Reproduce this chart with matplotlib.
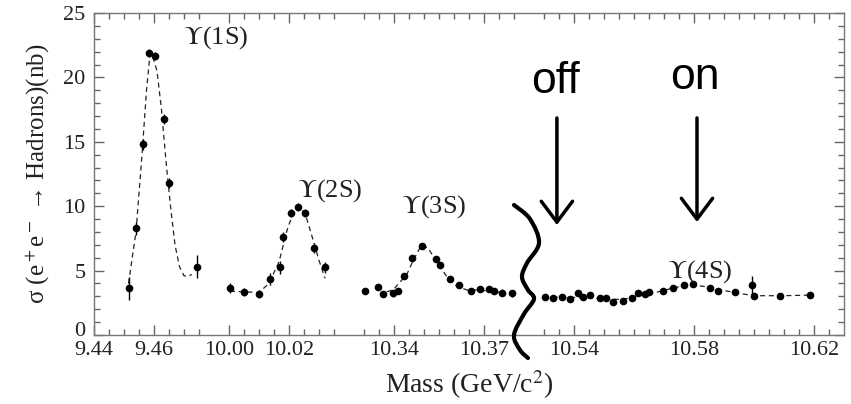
import numpy as np
import matplotlib
matplotlib.use("Agg")
import matplotlib.pyplot as plt
from matplotlib.path import Path
from matplotlib.patches import PathPatch
from matplotlib.transforms import ScaledTranslation
from matplotlib.ticker import FixedLocator, FixedFormatter, MultipleLocator

plt.rcParams['font.family'] = ['Liberation Serif', 'DejaVu Serif']
plt.rcParams['mathtext.fontset'] = 'stix'

# ---------------- data ----------------
# Upsilon(1S) scan
m1 = [9.4518, 9.4540, 9.4562, 9.4584, 9.4603, 9.4634, 9.4650, 9.4742]
s1 = [3.63, 8.28, 14.8, 21.9, 21.66, 16.77, 11.82, 5.30]
e1 = [0.9, 0.5, 0.4, 0.3, 0.3, 0.4, 0.4, 0.9]
f1m = [9.4515, 9.4540, 9.4560, 9.4575, 9.4585, 9.4592, 9.4610, 9.4625,
       9.4640, 9.4655, 9.4670, 9.4685, 9.4700, 9.4712, 9.4726]
f1s = [4.0, 8.0, 14.0, 19.0, 21.4, 21.9, 20.5, 17.5,
       13.5, 10.0, 7.0, 5.3, 4.6, 4.55, 4.7]

# Upsilon(2S) scan
m2 = [10.0003, 10.0050, 10.0100, 10.0137, 10.0170, 10.0180, 10.0208,
      10.0230, 10.0252, 10.0283, 10.0320]
s2 = [3.63, 3.36, 3.18, 4.35, 5.25, 7.63, 9.5, 9.96, 9.45, 6.73, 5.25]
e2 = [0.4, 0.3, 0.3, 0.5, 0.5, 0.4, 0.3, 0.3, 0.3, 0.4, 0.4]
f2m = [10.0003, 10.0050, 10.0100, 10.0133, 10.0167, 10.0193, 10.0217,
       10.0233, 10.0253, 10.0280, 10.0300, 10.0320]
f2s = [3.4, 3.35, 3.3, 4.0, 5.7, 8.1, 9.7, 9.95, 9.5, 7.4, 5.8, 4.4]

# Upsilon(3S) scan
m3 = [10.3303, 10.3348, 10.3364, 10.3396, 10.3414, 10.3434, 10.3461,
      10.3494, 10.3539, 10.3553, 10.3587, 10.3618, 10.3656, 10.3687,
      10.3718, 10.3733, 10.3759, 10.3792]
s3 = [3.42, 3.73, 3.18, 3.23, 3.42, 4.6, 5.95, 6.93, 5.9, 5.44, 4.35,
      3.9, 3.42, 3.55, 3.55, 3.42, 3.29, 3.23]
e3 = [0.25] * len(m3)
f3m = [10.3376, 10.3397, 10.3426, 10.3442, 10.3464, 10.3492, 10.3514,
       10.3542, 10.3576, 10.3609, 10.3642, 10.3687, 10.3720, 10.3763]
f3s = [3.36, 3.5, 4.27, 4.66, 5.8, 7.0, 6.73, 5.7, 4.53, 3.8, 3.5,
       3.5, 3.36, 3.3]

# Upsilon(4S) scan
m4 = [10.5303, 10.5331, 10.5359, 10.5387, 10.5414, 10.5431, 10.5453,
      10.5487, 10.5507, 10.5531, 10.5564, 10.5592, 10.5614, 10.5637,
      10.5650, 10.5696, 10.5729, 10.5767, 10.5798, 10.5853, 10.5881,
      10.5937, 10.5992, 10.6000, 10.6087, 10.6187]
s4 = [2.97, 2.90, 2.97, 2.80, 3.29, 2.93, 3.11, 2.85, 2.90, 2.59, 2.64,
      2.85, 3.24, 3.16, 3.36, 3.42, 3.63, 3.88, 3.96, 3.67, 3.42, 3.36,
      3.88, 3.05, 3.05, 3.11]
e4 = [0.2] * 22 + [0.7, 0.2, 0.2, 0.2]
f4m = [10.530, 10.540, 10.550, 10.556, 10.562, 10.568, 10.574, 10.579,
       10.584, 10.590, 10.596, 10.600, 10.610, 10.619]
f4s = [2.95, 2.92, 2.82, 2.75, 3.05, 3.35, 3.7, 3.9, 3.75, 3.45, 3.2,
       3.05, 3.05, 3.1]

major_ticks = [9.44, 9.46, 10.00, 10.02, 10.34, 10.37, 10.54, 10.58, 10.62]
major_labels = ["9.44", "9.46", "10.00", "10.02", "10.34", "10.37",
                "10.54", "10.58", "10.62"]
peak_labels = [r"$\Upsilon$(1S)", r"$\Upsilon$(2S)", r"$\Upsilon$(3S)", r"$\Upsilon$(4S)"]

# broken-axis segments (GeV)
seg_lo = [9.44, 9.995, 10.325, 10.525]
seg_hi = [9.48, 10.04, 10.385, 10.63]

# ---------------- piecewise scale ----------------
eps = 1e-7
kv, kp = [], []
pos = 0.0
for lo, hi in zip(seg_lo, seg_hi):
    kv += [lo, hi]
    kp += [pos + (eps if kp else 0.0), pos + (hi - lo)]
    pos += hi - lo
kv = np.array(kv); kp = np.array(kp)

def fwd(x):
    return np.interp(x, kv, kp)

def inv(p):
    return np.interp(p, kp, kv)

minor = []
for lo, hi in zip(seg_lo, seg_hi):
    for v in np.arange(lo, hi + 1e-9, 0.005):
        v = round(v, 4)
        if lo + 1e-6 < v < hi - 1e-6 and all(abs(v - t) > 1e-6 for t in major_ticks):
            minor.append(v)

W, H = 851, 404
fig = plt.figure(figsize=(W / 100, H / 100), dpi=100)
L, R, T, B = 94, 844, 13, 335
ax = fig.add_axes([L / W, 1 - B / H, (R - L) / W, (B - T) / H])
ax.set_xscale('function', functions=(fwd, inv))
ax.set_xlim(9.44, 10.63)
ax.set_ylim(0, 25)

ax.xaxis.set_major_locator(FixedLocator(major_ticks))
ax.xaxis.set_major_formatter(FixedFormatter(major_labels))
ax.xaxis.set_minor_locator(FixedLocator(minor))
ax.yaxis.set_major_locator(MultipleLocator(5))
ax.yaxis.set_minor_locator(MultipleLocator(1))
ax.tick_params(which='both', direction='in', top=True, right=True,
               color='#666666', labelcolor='#222222', labelsize=16)
ax.tick_params(which='major', length=7, width=1)
ax.tick_params(which='minor', length=4, width=1)
ax.tick_params(axis='x', pad=4)
ax.tick_params(axis='y', pad=6)
for sp in ax.spines.values():
    sp.set_color('#777777')
    sp.set_linewidth(1.0)

dash = (0, (4, 3))
for m, s, e, fm, fs in [(m1, s1, e1, f1m, f1s), (m2, s2, e2, f2m, f2s),
                        (m3, s3, e3, f3m, f3s), (m4, s4, e4, f4m, f4s)]:
    ax.plot(fm, fs, ls=dash, color='#222222', lw=0.9)
    ax.errorbar(m, s, yerr=e, fmt='o', color='black', ms=4.5,
                elinewidth=1, capsize=0)

ax.set_xlabel("Mass (GeV/c$^2$)", fontsize=20, color='#222222', labelpad=6)
ax.set_ylabel("\u03c3 (e$^+$e$^-$ \u2192 Hadrons)(nb)", fontsize=18,
              color='#222222', labelpad=8)

pk_pos = [(0.1627, 0.925), (0.3147, 0.450), (0.4524, 0.398), (0.808, 0.196)]
for lab, (px, py) in zip(peak_labels, pk_pos):
    ax.text(px, py, lab, transform=ax.transAxes, fontsize=19,
            ha='center', va='center', color='#222222')

# off / on annotation arrows
sans = ['Liberation Sans', 'DejaVu Sans']
ax.text(10.5337, 19.7, "off", fontsize=32, family=sans, ha='center', va='center')
ax.text(10.5803, 20.0, "on", fontsize=32, family=sans, ha='center', va='center')
for xm, ytop, ybot in [(10.5343, 16.85, 8.54), (10.5810, 16.85, 8.77)]:
    ax.annotate('', xy=(xm, ybot), xytext=(xm, ytop),
                arrowprops=dict(arrowstyle='->,head_length=0.6,head_width=0.45',
                                lw=2.5, color='black', mutation_scale=25,
                                shrinkA=0, shrinkB=0))

# wavy axis-break line (pixel-estimated, converted to axes fraction)
wave_px = [(514, 205), (530, 219), (539, 243), (527, 263), (522, 277),
           (528, 290), (534, 299), (524, 314), (514, 335), (520, 350), (528, 358)]
P = np.array([((x - L) / (R - L), (B - y) / (B - T)) for x, y in wave_px])
verts = [P[0]]
codes = [Path.MOVETO]
n = len(P)
for i in range(n - 1):
    p0 = P[i - 1] if i > 0 else P[i]
    p1, p2 = P[i], P[i + 1]
    p3 = P[i + 2] if i + 2 < n else P[i + 1]
    c1 = p1 + (p2 - p0) / 6
    c2 = p2 - (p3 - p1) / 6
    verts += [c1, c2, p2]
    codes += [Path.CURVE4] * 3
ax.add_patch(PathPatch(Path(verts, codes), transform=ax.transAxes,
                       fill=False, lw=3, color='black', clip_on=False,
                       capstyle='round', zorder=5))

# lift the "0" y-tick label a little so it clears the "9.44" label
fig.canvas.draw()
for lab in ax.get_yticklabels():
    if lab.get_text() == "0":
        lab.set_transform(lab.get_transform() + ScaledTranslation(0, 4 / 72, fig.dpi_scale_trans))

fig.savefig("out.png", dpi=100)
